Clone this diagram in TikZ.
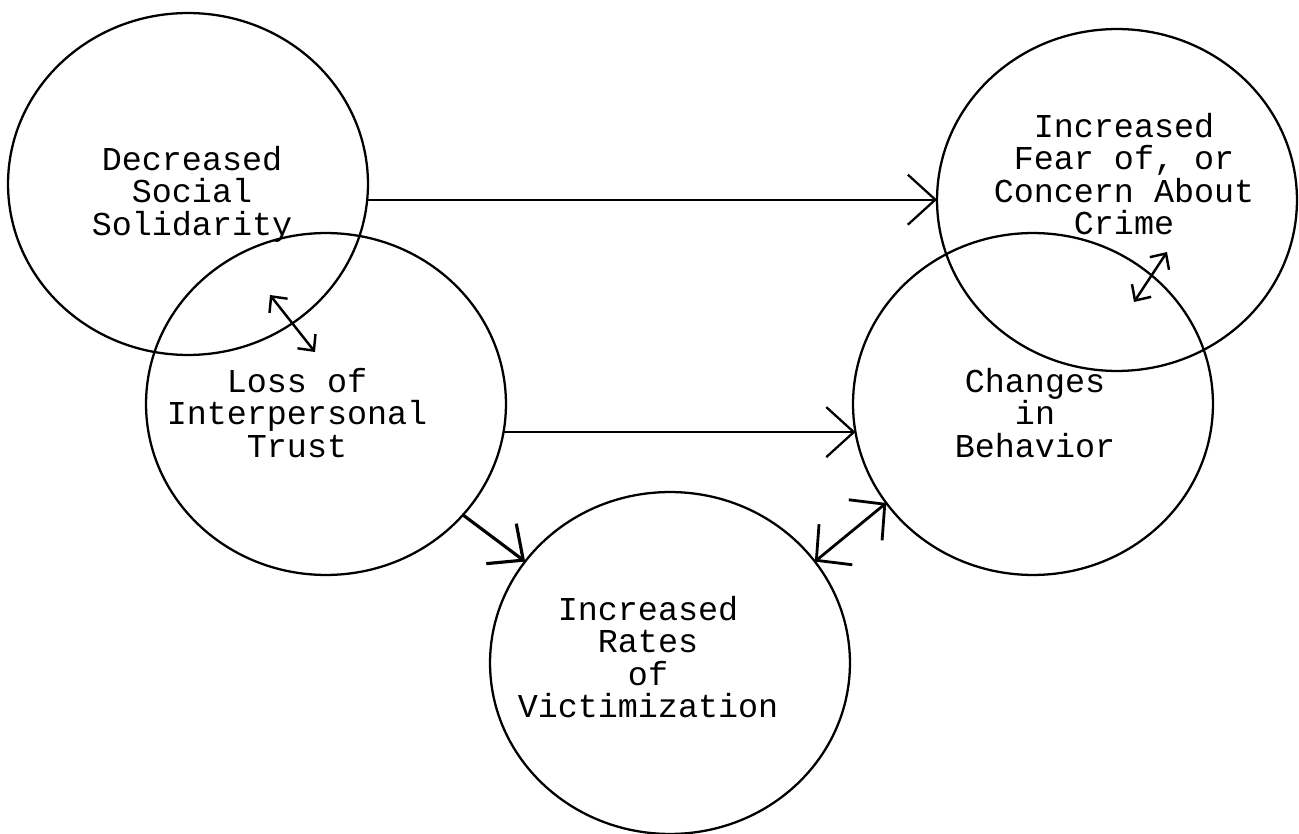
\documentclass[tikz,border=0pt]{standalone}
\usepackage{fontspec}
\setmonofont{Liberation Mono}
\usetikzlibrary{arrows.meta,shapes.geometric}

\begin{document}
\begin{tikzpicture}[
  x=0.02cm, y=-0.02cm,
  blob/.style={ellipse,draw,line width=1.3pt,minimum width=7.2cm,minimum height=6.84cm,inner sep=0pt,outer sep=0pt},
  txt/.style={font=\ttfamily\fontsize{19}{18.5}\selectfont,align=center,inner sep=0pt},
  arrow/.style={-{Straight Barb[length=5.5mm,width=10mm]},line width=1.3pt},
  both/.style={{Straight Barb[length=5mm,width=10.5mm]}-{Straight Barb[length=5mm,width=10.5mm]},line width=1.6pt},
  small/.style={{Straight Barb[length=2.4mm,width=4.6mm]}-{Straight Barb[length=2.4mm,width=4.6mm]},line width=1.4pt}
]
\useasboundingbox (0,0) rectangle (1299,834);
\node[blob] (solid) at (188,184) {};
\node[blob] (trust) at (326,404) {};
\node[blob] (victim) at (670,663) {};
\node[blob] (fear) at (1117,200) {};
\node[blob] (change) at (1033,404) {};
\node[txt] (solid-txt) at (192,194) {Decreased\\Social\\Solidarity};
\node[txt] (trust-txt) at (297,413) {Loss of\\Interpersonal\\Trust};
\node[txt] (victim-txt) at (648,657) {Increased\\Rates\\of\\Victimization};
\node[txt] (fear-txt) at (1124,174) {Increased\\Fear of, or\\Concern About\\Crime};
\node[txt] (change-txt) at (1035,413) {Changes\\in\\Behavior};
\coordinate (st1) at (270,295);
\coordinate (st2) at (315,352);
\coordinate (fc1) at (1167,252);
\coordinate (fc2) at (1134,302);
\draw[arrow] (solid.-5.7) -- (solid.-5.7 -| fear.west);
\draw[arrow] (trust.-9) -- (trust.-9 -| change.189);
\draw[arrow,line width=1.8pt] (trust.-39) -- (victim.145);
\draw[both] (victim.35) -- (change.-146);
\draw[small] (st1) -- (st2);
\draw[small] (fc1) -- (fc2);
\end{tikzpicture}
\end{document}
